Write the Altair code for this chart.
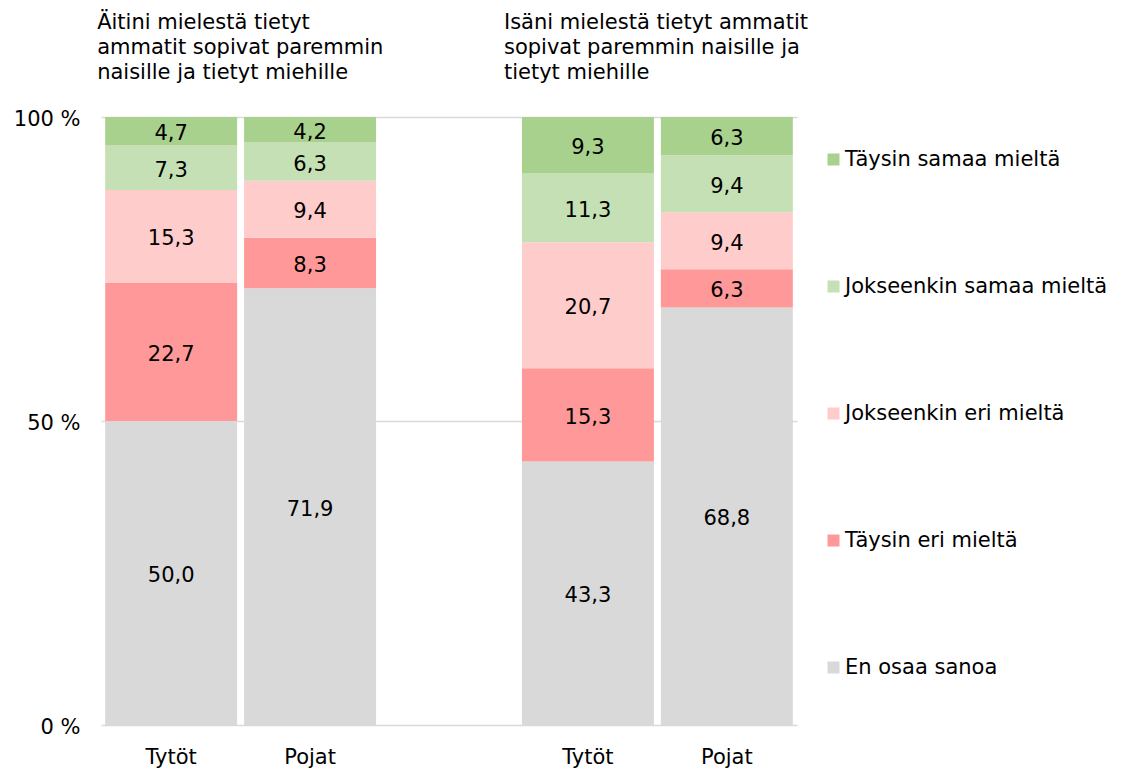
import altair as alt
import pandas as pd

# --- data ---
bars = ["Äiti|Tytöt", "Äiti|Pojat", "Isä|Tytöt", "Isä|Pojat"]
slots = ["Äiti|Tytöt", "Äiti|Pojat", "gap", "Isä|Tytöt", "Isä|Pojat"]
categories = ["En osaa sanoa", "Täysin eri mieltä", "Jokseenkin eri mieltä",
              "Jokseenkin samaa mieltä", "Täysin samaa mieltä"]
vals_aiti_tytot = [50.0, 22.7, 15.3, 7.3, 4.7]
vals_aiti_pojat = [71.9, 8.3, 9.4, 6.3, 4.2]
vals_isa_tytot = [43.3, 15.3, 20.7, 11.3, 9.3]
vals_isa_pojat = [68.8, 6.3, 9.4, 9.4, 6.3]
legend_order = ["Täysin samaa mieltä", "Jokseenkin samaa mieltä",
                "Jokseenkin eri mieltä", "Täysin eri mieltä", "En osaa sanoa"]
colors = ["#a9d18e", "#c5e0b4", "#ffcccc", "#ff9999", "#d9d9d9"]
title_aiti = "Äitini mielestä tietyt\nammatit sopivat paremmin\nnaisille ja tietyt miehille"
title_isa = "Isäni mielestä tietyt ammatit\nsopivat paremmin naisille ja\ntietyt miehille"

FONT = "DejaVu Sans"
FS = 21

rows = []
for bar, vals in zip(bars, [vals_aiti_tytot, vals_aiti_pojat, vals_isa_tytot, vals_isa_pojat]):
    for i, (cat, v) in enumerate(zip(categories, vals)):
        rows.append({"slot": bar, "cat": cat, "ord": i, "value": v})
df = pd.DataFrame(rows)

xscale = alt.Scale(domain=slots, paddingInner=0.05, paddingOuter=0.03)
yscale = alt.Scale(domain=[0, 1])

base = alt.Chart(df).transform_stack(
    stack="value", groupby=["slot"], sort=[alt.SortField("ord", order="ascending")],
    offset="normalize", as_=["y0", "y1"]
).transform_calculate(
    mid="(datum.y0 + datum.y1) / 2",
    label="replace(format(datum.value, '.1f'), '.', ',')"
)

bar_layer = base.mark_bar(strokeWidth=0).encode(
    x=alt.X("slot:N", scale=xscale, title=None,
            axis=alt.Axis(labelExpr="indexof(datum.value, '|') >= 0 ? split(datum.value, '|')[1] : ''",
                          labelAngle=0, ticks=False, domain=False, grid=False, labelPadding=21,
                          labelFontSize=FS, labelFont=FONT, labelColor="#000000")),
    y=alt.Y("y0:Q", scale=yscale, title=None,
            axis=alt.Axis(values=[0, 0.5, 1], labelExpr="format(datum.value * 100, 'd') + ' %'",
                          ticks=False, domain=False, labelPadding=21, grid=True, labelOffset=2,
                          gridColor="#d9d9d9", gridWidth=1.5,
                          labelFontSize=FS, labelFont=FONT, labelColor="#000000")),
    y2="y1:Q",
    color=alt.Color("cat:N", scale=alt.Scale(domain=legend_order, range=colors), title=None,
                    legend=alt.Legend(orient="none", legendX=722, legendY=32,
                                      symbolType="square", symbolSize=144, symbolStrokeWidth=0,
                                      labelFontSize=FS, labelFont=FONT, labelColor="#000000",
                                      rowPadding=105, labelOffset=1, labelLimit=400)),
)

text_layer = base.mark_text(font=FONT, fontSize=FS, color="#000000", baseline="middle", dy=3).encode(
    x=alt.X("slot:N", scale=xscale),
    y=alt.Y("mid:Q", scale=yscale),
    text="label:N",
)

tdf1 = pd.DataFrame({"slot": ["Äiti|Tytöt"], "t": [title_aiti]})
tdf2 = pd.DataFrame({"slot": ["Isä|Tytöt"], "t": [title_isa]})
t1 = alt.Chart(tdf1).mark_text(font=FONT, fontSize=FS, color="#000000", align="left",
                               baseline="alphabetic", lineBreak="\n", lineHeight=25, dx=-8).encode(
    x=alt.X("slot:N", scale=xscale, bandPosition=0), y=alt.value(-88), text="t:N")
t2 = alt.Chart(tdf2).mark_text(font=FONT, fontSize=FS, color="#000000", align="left",
                               baseline="alphabetic", lineBreak="\n", lineHeight=25, dx=-18).encode(
    x=alt.X("slot:N", scale=xscale, bandPosition=0), y=alt.value(-88), text="t:N")

chart = alt.layer(bar_layer, text_layer, t1, t2).properties(
    width=696, height=608,
    autosize=alt.AutoSizeParams(type="none"),
    padding={"left": 93, "top": 109, "right": 310, "bottom": 44},
).configure(font=FONT).configure_view(stroke="transparent", strokeWidth=0)

chart.save("out.html", embed_options={"renderer": "svg", "actions": False})
